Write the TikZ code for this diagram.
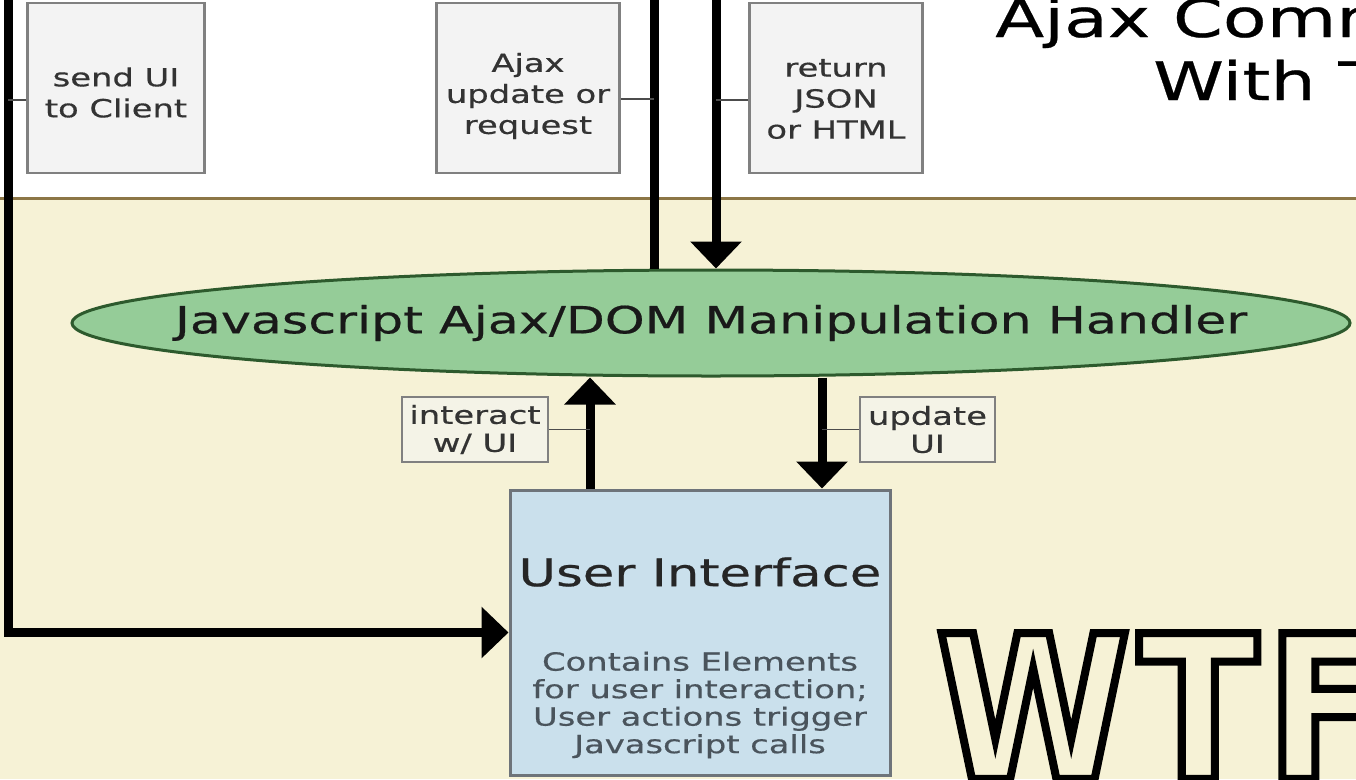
\documentclass[tikz,border=0pt]{standalone}
\usepackage{fontspec}
\setmainfont{DejaVu Sans}[FakeStretch=1.35,FakeBold=0.5]
\newfontfamily\wtffont{DejaVu Sans}[UprightFont={* Bold},FakeBold=4,FakeStretch=0.88,LetterSpace=4]
\newcommand\outlined[1]{\special{pdf:bc [0.965 0.949 0.839] [0 0 0]}#1\special{pdf:ec}}
\usetikzlibrary{arrows.meta,shapes.geometric}
\definecolor{cream}{RGB}{246,242,214}
\definecolor{divider}{RGB}{140,118,70}
\definecolor{lblfill}{RGB}{243,243,243}
\definecolor{lbledge}{RGB}{128,128,128}
\definecolor{handlerfill}{RGB}{149,204,152}
\definecolor{handleredge}{RGB}{45,90,45}
\definecolor{uifill}{RGB}{202,224,236}
\definecolor{uiedge}{RGB}{110,116,122}
\definecolor{desctext}{RGB}{74,84,92}
\begin{document}
\begin{tikzpicture}[x=1pt,y=-1pt,
lbl/.style={draw=lbledge,line width=2.5pt,fill=lblfill,inner sep=0pt},
lbltext/.style={align=center,inner sep=0pt,text=black!80,font=\fontsize{25}{31}\selectfont},
flow/.style={line width=9pt,black},
tip/.style={-{Triangle[width=50pt,length=27pt]}},
tick/.style={line width=1.5pt,black!70}]
\useasboundingbox (0,0) rectangle (1356,779);
\fill[white] (0,0) rectangle (1356,198);
\fill[cream] (0,198) rectangle (1356,779);
\draw[divider,line width=3pt] (0,198) -- (1356,198);
\node[lbl,minimum width=177pt,minimum height=170pt] (sendui) at (116,88) {};
\node[lbltext] (senduitext) at (116,92.5) {send UI\\to Client};
\node[lbl,minimum width=183pt,minimum height=170pt] (ajaxreq) at (528,88) {};
\node[lbltext] (ajaxreqtext) at (528,96) {Ajax\\update or\\request};
\node[lbl,minimum width=173pt,minimum height=170pt] (retjson) at (836,88) {};
\node[lbltext] (retjsontext) at (836,99) {return\\JSON\\or HTML};
\node[anchor=base west,inner sep=0pt,font=\fontsize{53}{60}\selectfont] (titlea) at (995,37) {Ajax Comm};
\node[anchor=base west,inner sep=0pt,font=\fontsize{53}{60}\selectfont] (titleb) at (1153,100) {With T};
\node[ellipse,draw=handleredge,line width=3pt,fill=handlerfill,minimum width=1278pt,minimum height=106pt,inner sep=0pt] (handler) at (711,323) {};
\node[inner sep=0pt,font=\fontsize{37.5}{40}\selectfont,text=black!90] (handlertext) at (handler) {Javascript Ajax/DOM Manipulation Handler};
\node[draw=uiedge,line width=3pt,fill=uifill,minimum width=380pt,minimum height=285pt] (ui) at (700,632.5) {};
\node[font=\fontsize{38}{40}\selectfont,text=black!85] (uititle) at (700,572) {User Interface};
\node[align=center,font=\fontsize{25}{27.5}\selectfont,text=desctext] (uidesc) at (700,705)
  {Contains Elements\\for user interaction;\\User actions trigger\\Javascript calls};
\node[lbl,fill=lblfill!60!cream,minimum width=146pt,minimum height=65pt,lbltext,font=\fontsize{25}{28}\selectfont] (interact) at (475,429.5) {interact\\w/ UI};
\node[lbl,fill=lblfill!60!cream,minimum width=135pt,minimum height=65pt,lbltext,font=\fontsize{25}{28}\selectfont] (update) at (927.5,429.5) {update\\UI};
\coordinate (clienttop) at (8,0);
\coordinate (reqtop) at (654,0);
\coordinate (rettop) at (716,0);
\coordinate (upx) at (590,0);
\coordinate (dnx) at (822,0);
\draw[flow,tip,line join=miter] (clienttop) |- (ui.west);
\draw[flow] (reqtop) -- (reqtop |- handler.north);
\draw[flow,tip] (rettop) -- (rettop |- handler.north);
\draw[flow,tip] (upx |- ui.north) -- (upx |- handler.south);
\draw[flow,tip] (dnx |- handler.south) -- (dnx |- ui.north);
\draw[tick] ([yshift=-12pt]sendui.west) -- ([yshift=-12pt]sendui.west -| clienttop);
\draw[tick] ([yshift=-11pt]ajaxreq.east) -- ([yshift=-11pt]ajaxreq.east -| reqtop);
\draw[tick] ([yshift=-12pt]retjson.west) -- ([yshift=-12pt]retjson.west -| rettop);
\draw[tick] (interact.east) -- (interact.east -| upx);
\draw[tick] (update.west) -- (update.west -| dnx);
\node[anchor=base west,inner sep=0pt,font=\wtffont\fontsize{200}{200}\selectfont] (wtf) at (936,779) {\outlined{WTF}};
\end{tikzpicture}
\end{document}
